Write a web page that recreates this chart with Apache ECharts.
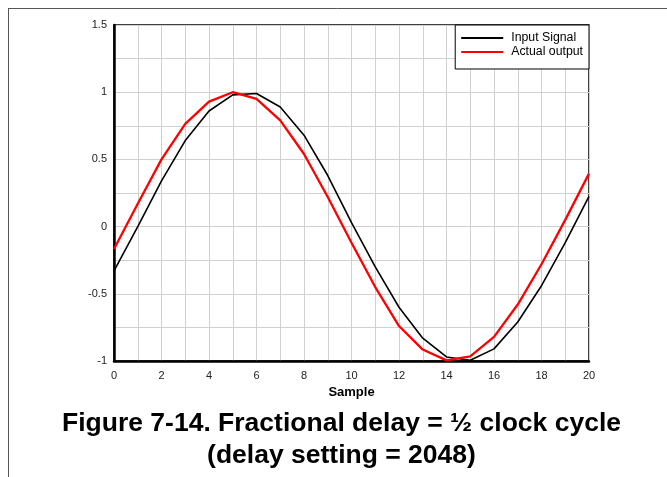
<!DOCTYPE html>
<html>
<head>
<meta charset="utf-8">
<script src="https://cdn.jsdelivr.net/npm/echarts@6/dist/echarts.min.js"></script>
<style>
    html, body { margin: 0; padding: 0; background: #fff; }
    #chart { width: 667px; height: 477px; }
</style>
</head>
<body>
<div id="chart"></div>
<script>
// Data
const samples = [0, 1, 2, 3, 4, 5, 6, 7, 8, 9, 10, 11, 12, 13, 14, 15, 16, 17, 18, 19, 20];
const inputSignal = [-0.33, 0.0, 0.34, 0.64, 0.86, 0.98, 0.99, 0.89, 0.68, 0.38, 0.03,
    -0.3, -0.6, -0.83, -0.97, -0.995, -0.91, -0.71, -0.44, -0.12, 0.225];
const actualOutput = [-0.166, 0.17, 0.5, 0.764, 0.93, 1.0, 0.95, 0.79, 0.54, 0.22, -0.12,
    -0.45, -0.74, -0.915, -0.995, -0.965, -0.82, -0.58, -0.28, 0.05, 0.394];
const seriesNames = ['Input Signal', 'Actual output'];
const xTickLabels = ['0', '2', '4', '6', '8', '10', '12', '14', '16', '18', '20'];
const yTickLabels = ['-1', '-0.5', '0', '0.5', '1', '1.5'];

function toPairs(values) {
    return samples.map((s, i) => [s, values[i]]);
}

document.addEventListener('DOMContentLoaded', function() {
    const chart = echarts.init(document.getElementById('chart'));
    const font = 'Liberation Sans, Arial, sans-serif';

    const option = {
        backgroundColor: '#fff',
        animation: false,
        title: {
            text: 'Figure 7-14. Fractional delay = ½ clock cycle\n(delay setting = 2048)',
            left: 336.5,
            textAlign: 'center',
            top: 403,
            textStyle: { fontFamily: font, fontSize: 26.5, fontWeight: 'bold', color: '#000', lineHeight: 32 }
        },
        legend: {
            data: seriesNames.map(n => ({ name: n, icon: 'rect' })),
            orient: 'vertical',
            right: 78,
            top: 25,
            itemWidth: 42,
            itemHeight: 2,
            itemGap: 2,
            padding: [7, 6, 11, 6],
            backgroundColor: '#fff',
            borderColor: '#000',
            borderWidth: 1,
            borderRadius: 0,
            textStyle: { fontFamily: font, fontSize: 12.3, color: '#000', lineHeight: 12, padding: [0, 0, 0, 3] }
        },
        grid: {
            left: 114, right: 78, top: 25, bottom: 116,
            show: true,
            borderColor: '#000',
            borderWidth: 1.5
        },
        xAxis: {
            type: 'value',
            min: 0, max: 20, interval: 1,
            name: 'Sample',
            nameLocation: 'middle',
            nameGap: 22,
            nameTextStyle: { fontFamily: font, fontSize: 13, fontWeight: 'bold', color: '#000' },
            axisLine: { show: true, onZero: false, lineStyle: { color: '#000', width: 2.5 } },
            axisTick: { show: false },
            axisLabel: {
                fontFamily: font, fontSize: 11, color: '#222', margin: 9,
                formatter: v => xTickLabels.includes(String(v)) ? String(v) : ''
            },
            splitLine: { show: true, lineStyle: { color: '#d0d0d0', width: 1 } }
        },
        yAxis: {
            type: 'value',
            min: -1, max: 1.5, interval: 0.25,
            axisLine: { show: true, onZero: false, lineStyle: { color: '#000', width: 2.5 } },
            axisTick: { show: false },
            axisLabel: {
                fontFamily: font, fontSize: 11, color: '#222', margin: 7,
                formatter: v => yTickLabels.includes(String(v)) ? String(v) : ''
            },
            splitLine: { show: true, lineStyle: { color: '#d0d0d0', width: 1 } }
        },
        series: [
            {
                name: seriesNames[0],
                type: 'line',
                data: toPairs(inputSignal),
                showSymbol: false,
                symbol: 'none',
                z: 3,
                color: '#000',
                lineStyle: { color: '#000', width: 1.6 }
            },
            {
                name: seriesNames[1],
                type: 'line',
                data: toPairs(actualOutput),
                showSymbol: false,
                symbol: 'none',
                z: 4,
                color: '#ff0000',
                lineStyle: { color: '#ff0000', width: 2.3 }
            }
        ],
        graphic: [
            // outer page frame lines
            { type: 'line', shape: { x1: 8, y1: 8.5, x2: 667, y2: 8.5 }, style: { stroke: '#555', lineWidth: 1 } },
            { type: 'line', shape: { x1: 8.5, y1: 8, x2: 8.5, y2: 477 }, style: { stroke: '#555', lineWidth: 1 } }
        ]
    };
    chart.setOption(option);
});
</script>
</body>
</html>
